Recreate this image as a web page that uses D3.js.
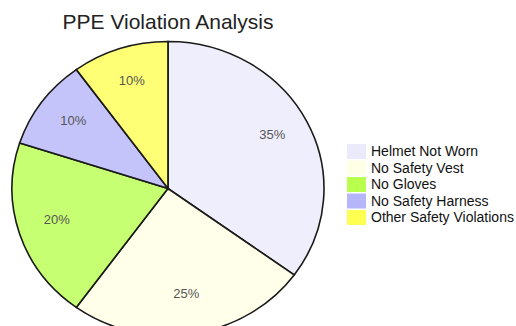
<!DOCTYPE html>
<html>
<head>
<meta charset="utf-8">
<script src="https://cdn.jsdelivr.net/npm/d3@7/dist/d3.min.js"></script>
<style>
  html, body { margin: 0; padding: 0; background: #ffffff; }
  svg { display: block; }
  text { font-family: "Liberation Sans", Arial, sans-serif; }
</style>
</head>
<body>
<svg id="chart" width="516" height="326"></svg>
<script>
const categories = ["Helmet Not Worn", "No Safety Vest", "No Gloves", "No Safety Harness", "Other Safety Violations"];
const values = [35, 25, 20, 10, 10];
const colors = ["#E6E6FA", "#FFFFE0", "#ADFF2F", "#A8A8F8", "#FFFF33"];
const title = "PPE Violation Analysis";

const svg = d3.select("#chart");
const W = 516, H = 326;
svg.append("rect").attr("width", W).attr("height", H).attr("fill", "#fff");

const cx = 168, cy = 188.5, rx = 156, ry = 147;
const sy = ry / rx;

const pie = d3.pie().sort(null).value(d => d.v);
const data = pie(categories.map((c, i) => ({ c, v: values[i], col: colors[i] })));

const arc = d3.arc().innerRadius(0).outerRadius(rx);
const labelArc = d3.arc().innerRadius(rx * 0.75).outerRadius(rx * 0.75);

const g = svg.append("g").attr("transform", `translate(${cx},${cy}) scale(1,${sy})`);
g.selectAll("path.slice").data(data).enter().append("path")
  .attr("class", "slice")
  .attr("d", arc)
  .attr("fill", d => d.data.col)
  .attr("fill-opacity", 0.68)
  .attr("stroke", "#1a1a1a")
  .attr("stroke-width", 1.6)
  .attr("vector-effect", "non-scaling-stroke");

const total = d3.sum(values);
svg.append("g").selectAll("text").data(data).enter().append("text")
  .attr("x", d => cx + labelArc.centroid(d)[0])
  .attr("y", d => cy + labelArc.centroid(d)[1] * sy - 3.5)
  .attr("dy", "0.35em")
  .attr("text-anchor", "middle")
  .attr("font-size", 13)
  .attr("fill", "#555")
  .text(d => Math.round(d.data.v / total * 100) + "%");

svg.append("text")
  .attr("x", cx).attr("y", 29)
  .attr("text-anchor", "middle")
  .attr("font-size", 21)
  .attr("fill", "#222")
  .text(title);

const leg = svg.append("g").attr("transform", "translate(347,144)");
const rowH = 16.5;
const items = leg.selectAll("g").data(categories).enter().append("g")
  .attr("transform", (d, i) => `translate(0,${i * rowH})`);
items.append("rect")
  .attr("width", 19).attr("height", 15)
  .attr("fill", (d, i) => colors[i])
  .attr("fill-opacity", 0.85);
items.append("text")
  .attr("x", 24).attr("y", 7.5)
  .attr("dy", "0.35em")
  .attr("font-size", 14)
  .attr("fill", "#111")
  .text(d => d);
</script>
</body>
</html>
